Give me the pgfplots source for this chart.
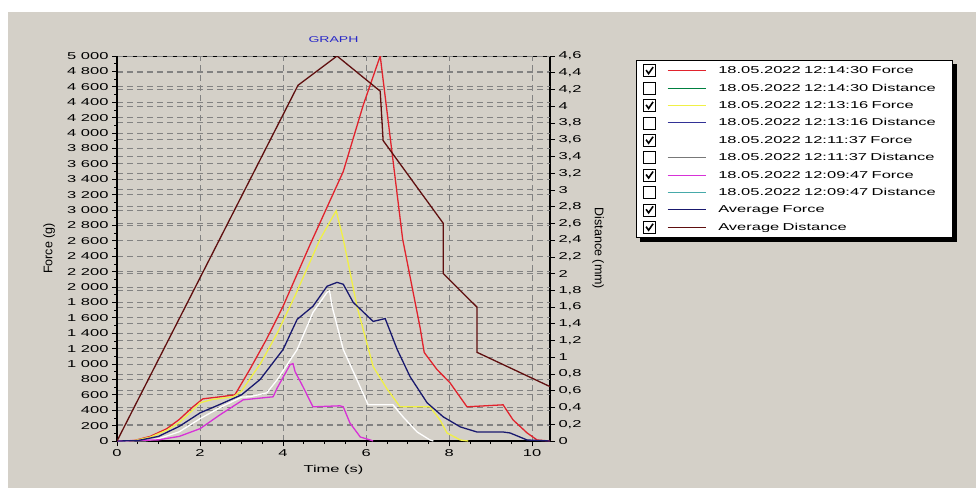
\documentclass[border=0pt]{standalone}
\usepackage{fontspec}
\setmainfont{Liberation Sans}[FakeStretch=1.65]
\newfontfamily\rotfont{Liberation Sans}
\usepackage{pgfplots}
\pgfplotsset{compat=1.18}
\definecolor{bg}{RGB}{212,208,200}
\definecolor{cRed}{RGB}{225,35,45}
\definecolor{cYel}{RGB}{240,240,70}
\definecolor{cMag}{RGB}{215,50,215}
\definecolor{cNavy}{RGB}{25,25,110}
\definecolor{cMaroon}{RGB}{95,15,15}
\definecolor{cGreen}{RGB}{0,128,64}
\definecolor{cBlueD}{RGB}{50,50,150}
\definecolor{cGray}{RGB}{120,120,120}
\definecolor{cTeal}{RGB}{70,170,170}
\definecolor{cTitle}{RGB}{40,40,200}
\definecolor{cGrid}{RGB}{130,130,130}

\pgfplotsset{
  chk/.style={legend image code/.code={
     \draw[black,line width=0.6pt,fill=white] (0pt,-6pt) rectangle (12pt,6pt);
     \draw[black,line width=1.6pt] (2.5pt,0.5pt) -- (5pt,-3pt) -- (9.5pt,3.5pt);
     \draw[##1] (24pt,0pt) -- (62pt,0pt);}},
  unchk/.style={legend image code/.code={
     \draw[black,line width=0.6pt,fill=white] (0pt,-6pt) rectangle (12pt,6pt);
     \draw[##1] (24pt,0pt) -- (62pt,0pt);}},
  base/.style={
    scale only axis, width=433pt, height=385pt,
    at={(117pt,47pt)}, anchor=south west,
    xmin=0, xmax=10.43,
    /pgf/number format/assume math mode=true,
    tick label style={font=\fontsize{10}{12}\selectfont},
    major grid style={cGrid, dash pattern=on 6pt off 4pt, line width=1pt},
    tick style={black, line width=0.7pt},
  }
}

\begin{document}
\begin{tikzpicture}
\fill[white] (0,0) rectangle (976pt,488pt);
\fill[bg] (8pt,0) rectangle (976pt,476pt);

% right (distance) axis with its grid
\begin{axis}[base, ymin=0, ymax=4.6,
  axis x line*=top, axis y line*=right, xtick=\empty,
  x axis line style={line width=0.7pt, -},
  y axis line style={line width=1.6pt, -},
  ytick={0,0.2,0.4,0.6,0.8,1,1.2,1.4,1.6,1.8,2,2.2,2.4,2.6,2.8,3,3.2,3.4,3.6,3.8,4,4.2,4.4,4.6},
  yticklabel style={/pgf/number format/use comma, /pgf/number format/fixed},
  tick align=outside, major tick length=5pt,
  ymajorgrids,
  ylabel={Distance (mm)},
  every axis y label/.style={at={(axis description cs:1.111,0.5)}, rotate=-90, anchor=center, font=\rotfont\fontsize{12.5}{14}\selectfont},
]
\addplot[draw=none, forget plot] coordinates {(0,0)};
\end{axis}

% force axis
\begin{axis}[base, ymin=0, ymax=5000,
  axis x line=bottom, axis y line=left,
  axis line style={line width=1.6pt, -},
  xtick={0,2,4,6,8,10}, minor x tick num=3,
  ytick={0,200,...,5000}, minor y tick num=1,
  scaled y ticks=false,
  yticklabel style={/pgf/number format/1000 sep={\ }},
  tick align=outside, major tick length=5pt, minor tick length=3pt,
  xmajorgrids, ymajorgrids,
  title={GRAPH},
  title style={font=\fontsize{8.5}{9}\selectfont, color=cTitle, at={(axis description cs:0.5,1)}, anchor=base, inner sep=0pt, yshift=8pt},
  xlabel={Time (s)},
  every axis x label/.style={at={(axis description cs:0.5,-0.076)}, anchor=center, font=\fontsize{10}{12}\selectfont},
  ylabel={Force (g)},
  every axis y label/.style={at={(axis description cs:-0.157,0.5)}, rotate=90, anchor=center, font=\rotfont\fontsize{12.5}{14}\selectfont},
]
% 18.05.2022 12:14:30 Force
\addplot[cRed, line width=1.3pt] coordinates {
(0,0) (0.4,5) (0.8,60) (1.2,160) (1.5,280) (1.83,444) (2.07,548) (2.5,575) (2.84,600)
(3.2,930) (3.6,1320) (4.0,1750) (4.65,2550) (5.45,3500) (5.93,4360) (6.34,5000)
(6.88,2624) (7.30,1475) (7.40,1150) (7.71,927) (8.02,757) (8.43,444) (9.30,470)
(9.54,274) (9.88,104) (10.12,13) (10.43,0)};
% 18.05.2022 12:13:16 Force
\addplot[cYel, line width=1.3pt] coordinates {
(0,0) (0.4,5) (0.8,50) (1.2,140) (1.5,240) (1.8,390) (2.0,496) (2.3,540) (2.8,574)
(3.0,650) (3.45,1000) (3.86,1400) (4.3,1900) (4.89,2620) (5.28,2990) (5.45,2624)
(5.78,1750) (6.17,966) (6.5,680) (6.82,444) (7.54,444) (7.78,274) (7.95,104) (8.27,13) (8.46,0)};
% 18.05.2022 12:11:37 Force
\addplot[white, line width=1.3pt] coordinates {
(0,0) (0.7,5) (1.0,30) (1.5,120) (2.0,290) (2.5,440) (3.0,570) (3.2,575) (3.61,626)
(3.86,796) (4.34,1188) (4.72,1670) (5.06,1932) (5.12,1950) (5.18,1750) (5.45,1188)
(5.78,796) (6.05,470) (6.65,470) (6.89,313) (7.23,117) (7.54,13) (7.62,0)};
% 18.05.2022 12:09:47 Force
\addplot[cMag, line width=1.3pt] coordinates {
(0,0) (1.0,15) (1.5,60) (2.0,160) (2.48,340) (3.04,535) (3.76,574) (3.86,690)
(4.17,992) (4.24,1005) (4.29,900) (4.48,705) (4.72,444) (5.37,457) (5.45,444)
(5.61,235) (5.86,52) (6.1,13) (6.17,0)};
% Average Force
\addplot[cNavy, line width=1.3pt] coordinates {
(0,0) (0.5,5) (1.0,60) (1.5,190) (2.0,365) (2.5,480) (3.0,600) (3.45,800) (4.0,1188)
(4.34,1580) (4.72,1750) (5.06,2010) (5.3,2060) (5.45,2036) (5.69,1800) (6.17,1553)
(6.46,1590) (6.75,1188) (7.06,835) (7.47,496) (7.86,313) (8.27,183) (8.67,117)
(9.30,117) (9.47,104) (9.88,13) (10.43,0)};
\end{axis}

% distance plot and legend
\begin{axis}[base, ymin=0, ymax=4.6, hide axis,
  legend cell align=left,
  legend style={name=leg, at={(axis description cs:1.1986,0.9896)}, anchor=north west,
    draw=black, line width=0.6pt, fill=white,
    font=\fontsize{10}{12}\selectfont,
    inner xsep=7pt, inner ysep=4pt, row sep=4.8pt, column sep=12pt,
    nodes={inner sep=0pt, text width=227pt, align=left, text height=8pt, text depth=2pt}},
]
\addlegendimage{chk, cRed, line width=1pt}
\addlegendentry{18.05.2022 12:14:30 Force}
\addlegendimage{unchk, cGreen, line width=1pt}
\addlegendentry{18.05.2022 12:14:30 Distance}
\addlegendimage{chk, cYel, line width=1pt}
\addlegendentry{18.05.2022 12:13:16 Force}
\addlegendimage{unchk, cBlueD, line width=1pt}
\addlegendentry{18.05.2022 12:13:16 Distance}
\addlegendimage{chk, white, line width=1pt}
\addlegendentry{18.05.2022 12:11:37 Force}
\addlegendimage{unchk, cGray, line width=1pt}
\addlegendentry{18.05.2022 12:11:37 Distance}
\addlegendimage{chk, cMag, line width=1pt}
\addlegendentry{18.05.2022 12:09:47 Force}
\addlegendimage{unchk, cTeal, line width=1pt}
\addlegendentry{18.05.2022 12:09:47 Distance}
\addlegendimage{chk, cNavy, line width=1pt}
\addlegendentry{Average Force}
% Average Distance
\addplot[chk, cMaroon, line width=1.3pt] coordinates {
(0,0) (4.36,4.25) (5.30,4.60) (6.34,4.18) (6.41,3.59) (7.86,2.60) (7.86,2.00)
(8.67,1.60) (8.67,1.06) (10.43,0.65)};
\addlegendentry{Average Distance}
\end{axis}
% legend drop shadow (L-shaped, outside the box)
\fill[black] ([yshift=-4pt]leg.north east) rectangle ([xshift=4pt,yshift=-4pt]leg.south east);
\fill[black] ([xshift=4pt]leg.south west) rectangle ([xshift=4pt,yshift=-4pt]leg.south east);
\pgfresetboundingbox
\path[use as bounding box] (0,0) rectangle (976pt,488pt);
\end{tikzpicture}
\end{document}
